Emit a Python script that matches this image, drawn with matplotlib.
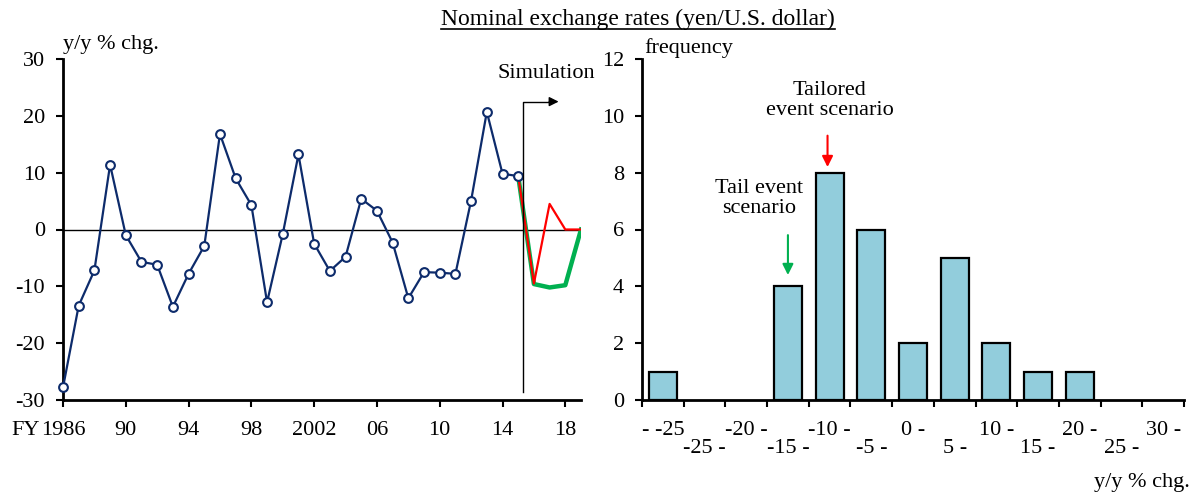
import numpy as np
from matplotlib import pyplot as plt
from matplotlib.lines import Line2D


plt.rcParams['font.family'] = ['Liberation Serif', 'DejaVu Serif']
plt.rcParams['font.size'] = 16
plt.rcParams['axes.unicode_minus'] = False

# Historical y/y % change of yen/USD, FY1986-2015
years = np.arange(1986, 2016)
yen_chg = [-27.8, -13.4, -7.2, 11.4, -1.0, -5.7, -6.2, -13.6, -7.8, -2.9,
           16.8, 9.0, 4.3, -12.8, -0.8, 13.2, -2.5, -7.3, -4.8, 5.4,
           3.3, -2.3, -12.1, -7.5, -7.6, -7.8, 5.1, 20.7, 9.8, 9.4]

# Simulation paths, FY2015-2019
sim_years = np.arange(2015, 2020)
tailored = [9.4, -9.5, 4.5, 0.0, 0.0]
tail = [9.4, -9.6, -10.2, -9.8, 0.0]

x_ticks = [1986, 1990, 1994, 1998, 2002, 2006, 2010, 2014, 2018]
x_tick_labels = ['1986', '90', '94', '98', '2002', '06', '10', '14', '18']

# Histogram of historical changes
bins = ['- -25', '-25 -', '-20 -', '-15 -', '-10 -', '-5 -', '0 -',
        '5 -', '10 -', '15 -', '20 -', '25 -', '30 -']
freq = [1, 0, 0, 4, 8, 6, 2, 5, 2, 1, 1, 0, 0]

navy = '#0D2B6B'
red = '#FF0000'
green = '#00B050'
bar_color = '#92CDDC'

fig = plt.figure(figsize=(11.99, 4.92), dpi=100)

# ---------------- left: time series ----------------
ax1 = fig.add_axes([63 / 1199, 1 - 400 / 492, 518 / 1199, 341 / 492])
ax1.axhline(0, color='black', lw=1.0, zorder=1)
ax1.plot(sim_years, tail, color=green, lw=3.2, zorder=2, solid_joinstyle='round')
ax1.plot(sim_years, tailored, color=red, lw=1.6, zorder=3)
ax1.plot(years, yen_chg, color=navy, lw=1.6, marker='o', markersize=6.3,
         markerfacecolor='white', markeredgecolor=navy, markeredgewidth=1.5,
         zorder=4, clip_on=False)

# simulation marker
sim_x = 2015.3
ax1.plot([sim_x, sim_x, 2016.9], [-28.6, 22.5, 22.5], color='black', lw=1.0, zorder=5)
ax1.annotate('', xy=(2017.75, 22.5), xytext=(2016.8, 22.5),
             arrowprops=dict(arrowstyle='-|>', color='black', lw=1.0, mutation_scale=14))
ax1.text(2016.8, 27.4, 'Simulation', ha='center', va='center')

ax1.set_xlim(1986, 2019)
ax1.set_ylim(-30, 30)
ax1.set_yticks(np.arange(-30, 31, 10))
ax1.set_xticks(x_ticks)
ax1.set_xticklabels(x_tick_labels)
for s in ['top', 'right']:
    ax1.spines[s].set_visible(False)
for s in ['left', 'bottom']:
    ax1.spines[s].set_linewidth(2.0)
ax1.tick_params(axis='both', direction='out', length=5, width=1.5)
ax1.tick_params(axis='x', pad=10)
ax1.tick_params(axis='y', pad=8)
ax1.text(0.0, 1.015, 'y/y % chg.', transform=ax1.transAxes, ha='left', va='bottom')

# ---------------- right: histogram ----------------
ax2 = fig.add_axes([642 / 1199, 1 - 400 / 492, 542 / 1199, 341 / 492])
pos = np.arange(len(bins))
freq_arr = np.array(freq)
has = freq_arr > 0
ax2.bar(pos[has], freq_arr[has], width=0.67, color=bar_color, edgecolor='black',
        linewidth=1.6, zorder=3)
ax2.set_xlim(-0.5, len(bins) - 0.5)
ax2.set_ylim(0, 12)
ax2.set_yticks(np.arange(0, 13, 2))
ax2.set_xticks(np.arange(-0.5, len(bins), 1.0))
ax2.set_xticklabels([])
ax2.set_xticks(pos, minor=True)
ax2.set_xticklabels([b if i % 2 == 0 else '\n' + b for i, b in enumerate(bins)], minor=True)
for lbl in ax2.get_xticklabels(minor=True):
    lbl.set_linespacing(0.95)
ax2.tick_params(axis='x', which='minor', length=0, pad=15)
ax2.tick_params(axis='both', which='major', direction='out', length=5, width=1.5)
ax2.tick_params(axis='y', pad=8)
for s in ['top', 'right']:
    ax2.spines[s].set_visible(False)
for s in ['left', 'bottom']:
    ax2.spines[s].set_linewidth(2.0)
ax2.text(0.005, 1.002, 'frequency', transform=ax2.transAxes, ha='left', va='bottom')
ax2.text(1.01, -0.215, 'y/y % chg.', transform=ax2.transAxes, ha='right', va='top')

ax2.annotate('', xy=(3.95, 8.1), xytext=(3.95, 9.4),
             arrowprops=dict(arrowstyle='-|>', color=red, lw=1.5, mutation_scale=16))
ax2.text(4.0, 10.55, 'Tailored\nevent scenario', ha='center', va='center', linespacing=1.05)
ax2.annotate('', xy=(3.0, 4.3), xytext=(3.0, 5.9),
             arrowprops=dict(arrowstyle='-|>', color=green, lw=1.5, mutation_scale=16))
ax2.text(2.3, 7.1, 'Tail event\nscenario', ha='center', va='center', linespacing=1.05)

# underlined title
title = fig.text(638 / 1199, 1 - 19 / 492, 'Nominal exchange rates (yen/U.S. dollar)',
                 ha='center', va='center', fontsize=17)
fig.canvas.draw()
inv = fig.transFigure.inverted()
bb = title.get_window_extent().transformed(inv)
fig.add_artist(Line2D([bb.x0, bb.x1], [bb.y0 + 0.002, bb.y0 + 0.002],
                      transform=fig.transFigure, color='black', lw=1.2))

# "FY" prefix left of the first year label
lb = ax1.get_xticklabels()[0].get_window_extent().transformed(inv)
fig.text(lb.x0 - 0.001, lb.y0, 'FY', ha='right', va='bottom')

fig.savefig('out.png', dpi=100)
